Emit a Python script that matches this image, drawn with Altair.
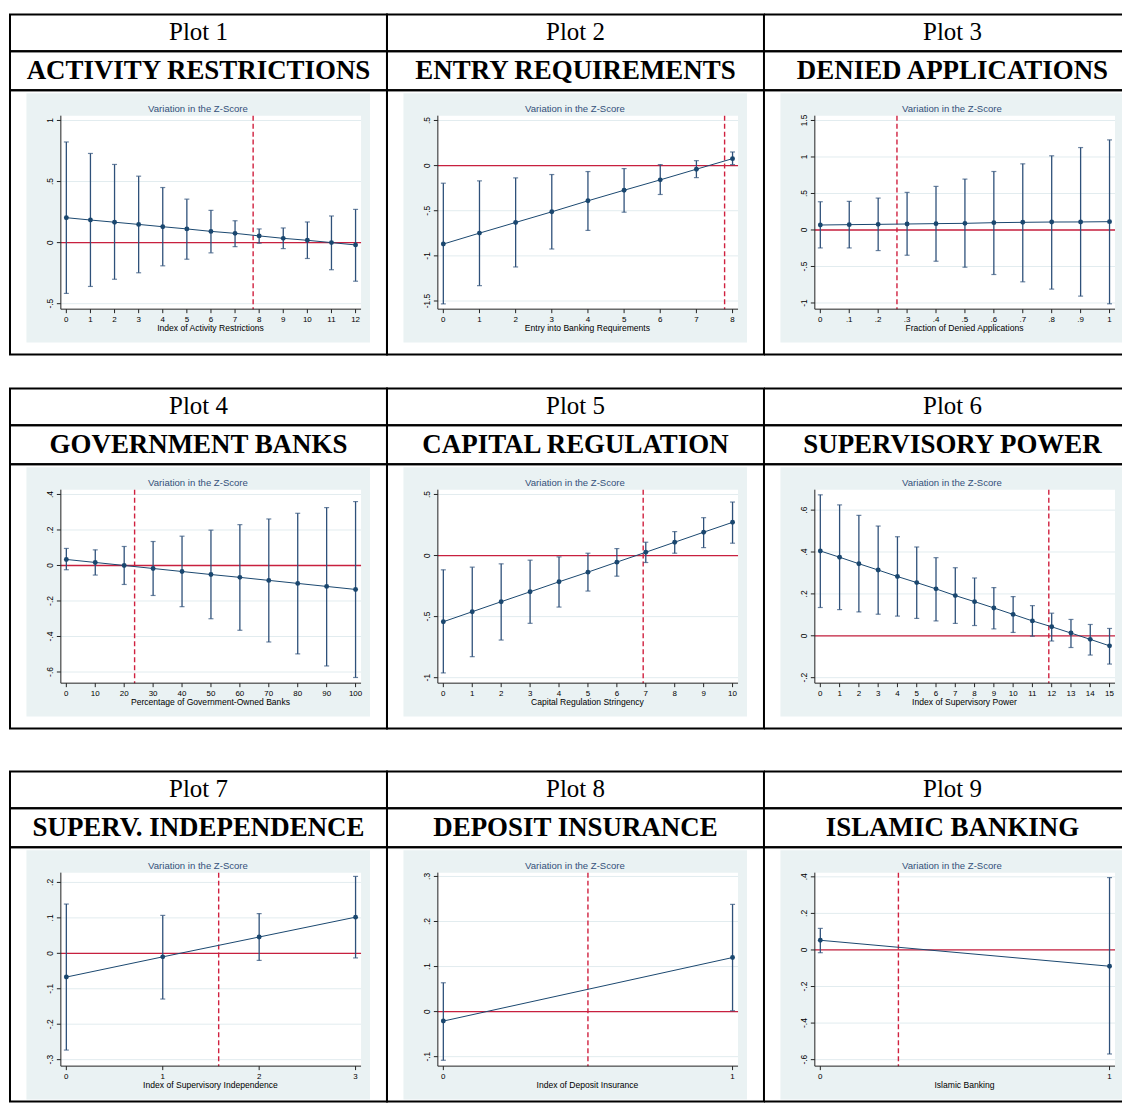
import altair as alt
import pandas as pd

# ---------------- data ----------------
PLOT_NUMS = ["Plot 1", "Plot 2", "Plot 3", "Plot 4", "Plot 5", "Plot 6", "Plot 7", "Plot 8", "Plot 9"]
TITLES = ["ACTIVITY RESTRICTIONS", "ENTRY REQUIREMENTS", "DENIED APPLICATIONS",
          "GOVERNMENT BANKS", "CAPITAL REGULATION", "SUPERVISORY POWER",
          "SUPERV. INDEPENDENCE", "DEPOSIT INSURANCE", "ISLAMIC BANKING"]
XLABELS = ["Index of Activity Restrictions", "Entry into Banking Requirements",
           "Fraction of Denied Applications", "Percentage of Government-Owned Banks",
           "Capital Regulation Stringency", "Index of Supervisory Power",
           "Index of Supervisory Independence", "Index of Deposit Insurance", "Islamic Banking"]
SUBTITLE = "Variation in the Z-Score"

X1 = [0, 1, 2, 3, 4, 5, 6, 7, 8, 9, 10, 11, 12]
Y1 = [0.204, 0.185, 0.167, 0.149, 0.130, 0.112, 0.092, 0.076, 0.055, 0.035, 0.019, 0.000, -0.019]
HI1 = [0.824, 0.730, 0.640, 0.544, 0.451, 0.356, 0.264, 0.179, 0.112, 0.120, 0.169, 0.218, 0.272]
LO1 = [-0.416, -0.359, -0.300, -0.247, -0.190, -0.136, -0.084, -0.033, -0.005, -0.049, -0.130, -0.222, -0.316]

X2 = [0, 1, 2, 3, 4, 5, 6, 7, 8]
Y2 = [-0.869, -0.748, -0.630, -0.512, -0.390, -0.273, -0.158, -0.040, 0.077]
HI2 = [-0.195, -0.169, -0.136, -0.099, -0.066, -0.033, 0.011, 0.055, 0.151]
LO2 = [-1.532, -1.330, -1.123, -0.924, -0.718, -0.516, -0.320, -0.133, 0.011]

X3 = [0, 0.1, 0.2, 0.3, 0.4, 0.5, 0.6, 0.7, 0.8, 0.9, 1]
Y3 = [0.068, 0.073, 0.077, 0.082, 0.087, 0.091, 0.100, 0.105, 0.109, 0.110, 0.114]
HI3 = [0.387, 0.392, 0.437, 0.515, 0.597, 0.697, 0.801, 0.906, 1.016, 1.129, 1.234]
LO3 = [-0.246, -0.246, -0.282, -0.346, -0.428, -0.510, -0.610, -0.710, -0.810, -0.906, -1.011]

X4 = [0, 10, 20, 30, 40, 50, 60, 70, 80, 90, 100]
Y4 = [0.034, 0.017, 0.000, -0.017, -0.034, -0.051, -0.067, -0.084, -0.101, -0.118, -0.135]
HI4 = [0.096, 0.088, 0.107, 0.135, 0.165, 0.199, 0.230, 0.262, 0.294, 0.326, 0.360]
LO4 = [-0.024, -0.054, -0.107, -0.169, -0.232, -0.300, -0.365, -0.431, -0.498, -0.566, -0.631]

X5 = [0, 1, 2, 3, 4, 5, 6, 7, 8, 9, 10]
Y5 = [-0.542, -0.460, -0.378, -0.297, -0.215, -0.136, -0.054, 0.027, 0.109, 0.191, 0.272]
HI5 = [-0.117, -0.095, -0.068, -0.038, -0.011, 0.019, 0.057, 0.109, 0.196, 0.310, 0.438]
LO5 = [-0.961, -0.828, -0.692, -0.555, -0.422, -0.291, -0.169, -0.057, 0.019, 0.065, 0.101]

X6 = [0, 1, 2, 3, 4, 5, 6, 7, 8, 9, 10, 11, 12, 13, 14, 15]
Y6 = [0.405, 0.375, 0.344, 0.314, 0.283, 0.254, 0.224, 0.192, 0.163, 0.133, 0.102, 0.071, 0.043, 0.013, -0.017, -0.048]
HI6 = [0.673, 0.625, 0.575, 0.524, 0.473, 0.424, 0.373, 0.325, 0.276, 0.230, 0.187, 0.144, 0.108, 0.078, 0.054, 0.035]
LO6 = [0.135, 0.125, 0.114, 0.103, 0.094, 0.083, 0.071, 0.059, 0.049, 0.033, 0.016, -0.002, -0.025, -0.056, -0.092, -0.135]

X7 = [0, 1, 2, 3]
Y7 = [-0.067, -0.010, 0.046, 0.102]
HI7 = [0.139, 0.107, 0.112, 0.217]
LO7 = [-0.273, -0.129, -0.020, -0.013]

X8 = [0, 1]
Y8 = [-0.021, 0.120]
HI8 = [0.064, 0.238]
LO8 = [-0.108, 0.002]

X9 = [0, 1]
Y9 = [0.053, -0.089]
HI9 = [0.118, 0.396]
LO9 = [-0.015, -0.569]

# vertical reference (dashed) lines
REF = [7.75, 7.78, 0.265, 23.6, 6.91, 11.85, 1.58, 0.5, 0.27]

# tick labels
XT = [X1, X2, X3, X4, X5, X6, X7, X8, X9]
YT = [[-0.5, 0, 0.5, 1],
      [-1.5, -1, -0.5, 0, 0.5],
      [-1, -0.5, 0, 0.5, 1, 1.5],
      [-0.6, -0.4, -0.2, 0, 0.2, 0.4],
      [-1, -0.5, 0, 0.5],
      [-0.2, 0, 0.2, 0.4, 0.6],
      [-0.3, -0.2, -0.1, 0, 0.1, 0.2],
      [-0.1, 0, 0.1, 0.2, 0.3],
      [-0.6, -0.4, -0.2, 0, 0.2, 0.4]]

XS = [X1, X2, X3, X4, X5, X6, X7, X8, X9]
YS = [Y1, Y2, Y3, Y4, Y5, Y6, Y7, Y8, Y9]
HIS = [HI1, HI2, HI3, HI4, HI5, HI6, HI7, HI8, HI9]
LOS = [LO1, LO2, LO3, LO4, LO5, LO6, LO7, LO8, LO9]

# ---------------- layout / style ----------------
NAVY = "#1a476f"
BAR = "#2f517a"
RED = "#c8203f"
RED2 = "#d0203f"
BG = "#eaf2f3"
GRID = "#e2ecef"
TITLEC = "#34507a"
SANS = "Liberation Sans"
SERIF = "Liberation Serif"
LBL = "replace(toString(datum.v), '0.', '.')"

COLW = [378, 378, 359]
HEAD_H, TITLE_H = 37, 39
PLOT_H = [265, 265, 255]
GAPS = [34, 43]
YR = [[214, 30.3], [211.3, 30.3], [213.3, 30.3],
      [208.3, 30.3], [214, 30.3], [214, 46],
      [213, 35.3], [210, 29.3], [213, 29.7]]
XR = [56.5, 346.5]
PL, PR, PT, PB = 51, 352, 25.5, 219.5

ONE = pd.DataFrame({"a": [0]})


def border_rules(W, H):
    top = alt.Chart(ONE).mark_rule(color="black", strokeWidth=2).encode(
        x=alt.value(0), x2=alt.value(W), y=alt.value(0))
    bot = alt.Chart(ONE).mark_rule(color="black", strokeWidth=2).encode(
        x=alt.value(0), x2=alt.value(W), y=alt.value(H))
    return [top, bot]


def finish(layers, W, H, col):
    if col == 2:
        return alt.layer(*(layers + border_rules(W, H))).properties(
            width=W, height=H, view=alt.ViewBackground(stroke="transparent"))
    return alt.layer(*layers).properties(width=W, height=H)


def text_cell(txt, col, H, size, weight, base):
    W = COLW[col]
    t = alt.Chart(pd.DataFrame({"t": [txt]})).mark_text(
        font=SERIF, fontSize=size, fontWeight=weight, align="center",
        baseline="alphabetic", color="black").encode(
        text="t:N", x=alt.value(189), y=alt.value(base))
    return finish([t], W, H, col)


def spacer(col, H):
    t = alt.Chart(ONE).mark_text(text=" ").encode(x=alt.value(0), y=alt.value(0))
    return alt.layer(t).properties(width=COLW[col], height=H,
                                   view=alt.ViewBackground(stroke="transparent"))


def plot_cell(i, col, H):
    W = COLW[col]
    df = pd.DataFrame({"x": XS[i], "y": YS[i], "lo": LOS[i], "hi": HIS[i]})
    xt = pd.DataFrame({"v": XT[i]})
    yt = pd.DataFrame({"v": YT[i]})
    xs = alt.Scale(domain=[XT[i][0], XT[i][-1]], range=XR, nice=False, zero=False)
    ys = alt.Scale(domain=[YT[i][0], YT[i][-1]], range=YR[i], nice=False, zero=False)

    def X(f):
        return alt.X(f, scale=xs, axis=None)

    def Y(f):
        return alt.Y(f, scale=ys, axis=None)

    bg = alt.Chart(ONE).mark_rect(color=BG).encode(
        x=alt.value(16.5), x2=alt.value(min(361, W)), y=alt.value(3), y2=alt.value(253))
    sub = alt.Chart(ONE).mark_text(text=SUBTITLE, font=SANS, fontSize=9.6, color=TITLEC,
                                   align="center", baseline="middle").encode(
        x=alt.value(188.5), y=alt.value(19))
    white = alt.Chart(ONE).mark_rect(color="white").encode(
        x=alt.value(PL), x2=alt.value(PR), y=alt.value(PT), y2=alt.value(PB))
    grid = alt.Chart(yt).mark_rule(color=GRID, strokeWidth=1).encode(
        y=Y("v:Q"), x=alt.value(PL), x2=alt.value(PR))
    zero = alt.Chart(pd.DataFrame({"v": [0]})).mark_rule(color=RED, strokeWidth=1.3).encode(
        y=Y("v:Q"), x=alt.value(PL), x2=alt.value(PR))
    ref = alt.Chart(pd.DataFrame({"v": [REF[i]]})).mark_rule(
        color=RED2, strokeWidth=1.4, strokeDash=[5, 3]).encode(
        x=X("v:Q"), y=alt.value(PT), y2=alt.value(PB))
    yline = alt.Chart(ONE).mark_rule(color="#222222", strokeWidth=1).encode(
        x=alt.value(PL), y=alt.value(PT), y2=alt.value(PB))
    xline = alt.Chart(ONE).mark_rule(color="#222222", strokeWidth=1).encode(
        x=alt.value(PL), x2=alt.value(PR), y=alt.value(PB))
    # axis ticks and labels
    ytick = alt.Chart(yt).mark_rule(color="#222222", strokeWidth=1).encode(
        y=Y("v:Q"), x=alt.value(PL - 4), x2=alt.value(PL))
    ylab = alt.Chart(yt).transform_calculate(lab=LBL).mark_text(
        font=SANS, fontSize=8.5, color="black", angle=270, align="center",
        baseline="bottom").encode(y=Y("v:Q"), x=alt.value(PL - 6.3), text="lab:N")
    xtick = alt.Chart(xt).mark_rule(color="#222222", strokeWidth=1).encode(
        x=X("v:Q"), y=alt.value(PB), y2=alt.value(PB + 4))
    xlab = alt.Chart(xt).transform_calculate(lab=LBL).mark_text(
        font=SANS, fontSize=8, color="black", align="center",
        baseline="alphabetic").encode(x=X("v:Q"), y=alt.value(232.6), text="lab:N")
    xtitle = alt.Chart(ONE).mark_text(
        text=XLABELS[i], font=SANS, fontSize=8.6, color="black", align="center",
        baseline="alphabetic").encode(x=alt.value(201), y=alt.value(241))
    bars = alt.Chart(df).mark_rule(color=BAR, strokeWidth=1.3).encode(
        x=X("x:Q"), y=Y("lo:Q"), y2="hi:Q")
    cap_lo = alt.Chart(df).mark_tick(color=BAR, orient="horizontal", size=5, thickness=1.2).encode(
        x=X("x:Q"), y=Y("lo:Q"))
    cap_hi = alt.Chart(df).mark_tick(color=BAR, orient="horizontal", size=5, thickness=1.2).encode(
        x=X("x:Q"), y=Y("hi:Q"))
    line = alt.Chart(df).mark_line(color=NAVY, strokeWidth=1).encode(x=X("x:Q"), y=Y("y:Q"))
    pts = alt.Chart(df).mark_circle(color=NAVY, size=24, opacity=1).encode(
        x=X("x:Q"), y=Y("y:Q"))
    layers = [bg, sub, white, grid, zero, ref, yline, xline, ytick, ylab, xtick, xlab, xtitle,
              bars, cap_lo, cap_hi, line, pts]
    return finish(layers, W, H, col)


cells = []
for t in range(3):
    idx = [3 * t + c for c in range(3)]
    cells += [text_cell(PLOT_NUMS[k], c, HEAD_H, 25, "normal", 25.7) for c, k in enumerate(idx)]
    cells += [text_cell(TITLES[k], c, TITLE_H, 27, "bold", 27.3) for c, k in enumerate(idx)]
    cells += [plot_cell(k, c, PLOT_H[t]) for c, k in enumerate(idx)]
    if t < 2:
        cells += [spacer(c, GAPS[t]) for c in range(3)]

chart = alt.concat(*cells, columns=3, spacing=0, bounds="flush", align="each").properties(
    padding={"left": 1, "top": 3, "right": 0, "bottom": 1},
    background="white",
).configure_view(stroke="black", strokeWidth=2)

chart.save("out.html", embed_options={"renderer": "svg", "actions": False})
